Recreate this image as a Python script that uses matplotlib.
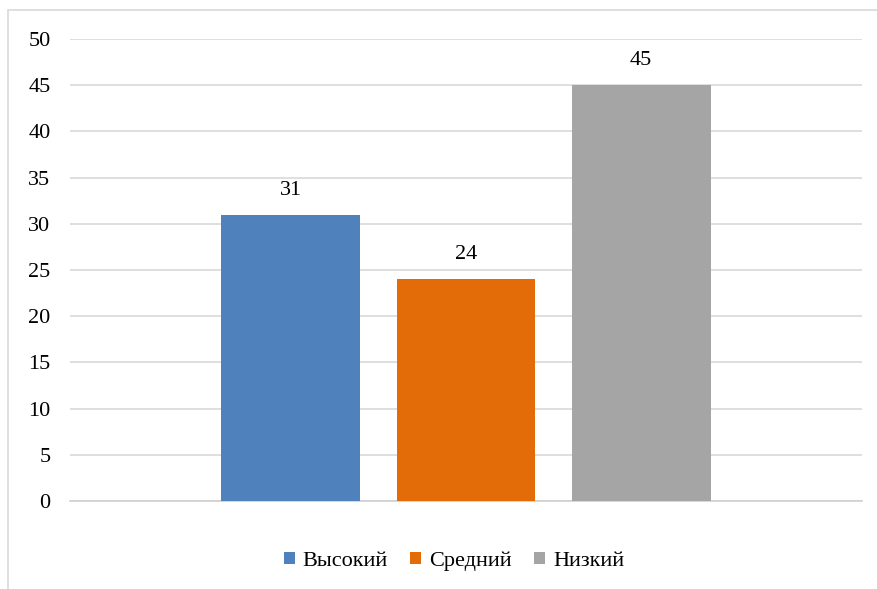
import matplotlib.pyplot as plt
from matplotlib.patches import Rectangle

labels = ['Высокий', 'Средний', 'Низкий']
values = [31, 24, 45]
colors = ['#4f81bd', '#e36c09', '#a5a5a5']
yticks = [0, 5, 10, 15, 20, 25, 30, 35, 40, 45, 50]

plt.rcParams['font.family'] = ['Liberation Serif', 'DejaVu Serif']

fig = plt.figure(figsize=(8.77, 5.89), dpi=100)
ax = fig.add_axes([70 / 877, 1 - 501 / 589, 792 / 877, 462 / 589])

# outer chart border (left and top visible)
fig.add_artist(Rectangle((8 / 877, -0.1), 1.2, 1 - 10 / 589 + 0.1,
                         transform=fig.transFigure, fill=False,
                         edgecolor='#d9d9d9', lw=1.2))

width = 0.1755
step = 0.221
for i, (lab, v, c) in enumerate(zip(labels, values, colors)):
    x = (i - 1) * step
    ax.bar(x, v, width=width, color=c, label=lab, zorder=3)
    ax.text(x, v + 1.6, str(v), ha='center', va='bottom', fontsize=16)

ax.set_xlim(-0.5, 0.5)
ax.set_ylim(0, 50)
ax.set_yticks(yticks)
ax.set_xticks([])
ax.grid(axis='y', color='#d9d9d9', lw=1.2, zorder=0)
for s in ['top', 'right', 'left']:
    ax.spines[s].set_visible(False)
ax.spines['bottom'].set_color('#d0d0d0')
ax.spines['bottom'].set_linewidth(1.2)
ax.tick_params(axis='y', length=0, labelsize=16, pad=14)

fig.legend(loc='center', bbox_to_anchor=(454 / 877, 1 - 561 / 589), ncol=3,
           frameon=False, fontsize=16, handlelength=0.5, handleheight=0.5,
           handletextpad=0.35, columnspacing=1.0)

fig.savefig('out.png', dpi=100)
